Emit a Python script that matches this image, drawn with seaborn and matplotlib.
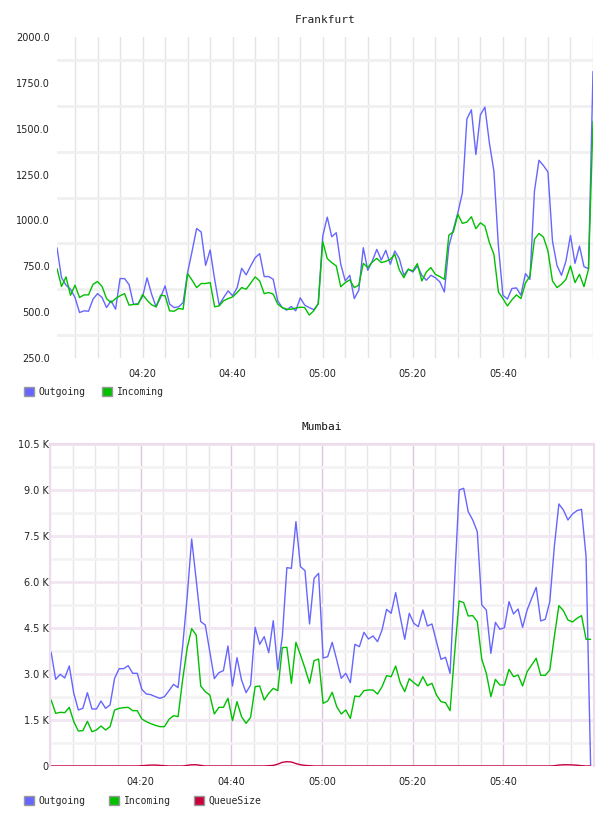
import matplotlib

matplotlib.use("Agg")

import matplotlib.dates as mdates
import matplotlib.pyplot as plt
import numpy as np
import pandas as pd
import seaborn as sns
from matplotlib.patches import Patch

# Frankfurt, one sample per minute from 04:01
frankfurt_outgoing = [
    851, 688, 647, 625, 580, 498, 507, 505, 571, 601, 580, 525, 562, 516, 683, 683, 650, 542, 547, 585,
    687, 598, 529, 580, 643, 544, 525, 529, 552, 716, 833, 956, 937, 755, 839, 679, 538, 580, 616, 589,
    634, 739, 703, 752, 797, 819, 694, 694, 679, 562, 525, 511, 531, 507, 578, 538, 525, 513, 544, 915,
    1018, 911, 933, 761, 670, 701, 574, 619, 851, 728, 779, 842, 784, 837, 761, 833, 792, 701, 734, 719,
    752, 701, 674, 701, 688, 665, 610, 860, 951, 1042, 1150, 1553, 1603, 1359, 1576, 1618, 1422, 1268, 860, 592,
    571, 629, 632, 592, 710, 679, 1159, 1328, 1299, 1264, 888, 755, 701, 779, 918, 766, 860, 748, 737, 1812,
]
frankfurt_incoming = [
    737, 640, 692, 592, 647, 580, 594, 594, 652, 667, 640, 574, 552, 574, 589, 601, 538, 542, 542, 596,
    565, 540, 529, 592, 589, 507, 505, 520, 516, 710, 674, 634, 656, 656, 661, 529, 534, 562, 574, 583,
    607, 634, 625, 658, 692, 670, 601, 607, 598, 544, 525, 516, 516, 522, 527, 525, 484, 507, 547, 885,
    792, 770, 752, 638, 661, 676, 634, 647, 766, 743, 773, 793, 770, 777, 788, 815, 730, 688, 734, 725,
    764, 670, 719, 743, 706, 694, 679, 920, 937, 1033, 984, 991, 1020, 955, 987, 969, 879, 815, 610, 574,
    534, 567, 594, 574, 658, 697, 897, 929, 909, 833, 670, 634, 652, 679, 752, 661, 706, 639, 734, 1540,
]

# Mumbai, one sample per minute from 04:00
mumbai_outgoing = [
    3707, 2826, 2989, 2870, 3261, 2370, 1826, 1881, 2391, 1859, 1859, 2120, 1881, 1989, 2859, 3174, 3174, 3272, 3022, 3022,
    2500, 2348, 2326, 2261, 2207, 2261, 2457, 2663, 2555, 3891, 5500, 7402, 6065, 4707, 4598, 3729, 2848, 3044, 3109, 3913,
    2609, 3533, 2804, 2391, 2641, 4522, 3967, 4217, 3696, 4739, 3131, 4217, 6468, 6446, 7968, 6500, 6370, 4631, 6120, 6283,
    3520, 3565, 4033, 3457, 2859, 3022, 2717, 3968, 3892, 4359, 4141, 4240, 4055, 4435, 5109, 4979, 5653, 4870, 4131, 4979,
    4653, 4544, 5087, 4566, 4631, 4055, 3478, 3544, 3022, 6011, 9000, 9055, 8294, 8022, 7642, 5250, 5087, 3674, 4685, 4457,
    4511, 5359, 4957, 5120, 4522, 5087, 5468, 5827, 4729, 4783, 5359, 7153, 8544, 8348, 8022, 8218, 8327, 8370, 6827, 30,
]
mumbai_incoming = [
    2152, 1717, 1750, 1739, 1913, 1446, 1141, 1152, 1457, 1120, 1174, 1304, 1174, 1283, 1826, 1881, 1902, 1913, 1804, 1804,
    1533, 1446, 1380, 1326, 1283, 1283, 1522, 1642, 1609, 2804, 3837, 4478, 4272, 2609, 2424, 2315, 1696, 1913, 1913, 2207,
    1478, 2098, 1609, 1391, 1587, 2587, 2609, 2152, 2370, 2533, 2457, 3859, 3870, 2696, 4033, 3620, 3185, 2696, 3435, 3489,
    2044, 2120, 2402, 1935, 1696, 1826, 1554, 2283, 2261, 2457, 2478, 2478, 2348, 2587, 2946, 2913, 3261, 2717, 2424, 2848,
    2717, 2609, 2913, 2620, 2696, 2315, 2098, 2065, 1804, 3674, 5381, 5327, 4892, 4903, 4707, 3478, 3022, 2261, 2826, 2642,
    2642, 3152, 2913, 2967, 2609, 3076, 3294, 3511, 2957, 2957, 3131, 4218, 5229, 5066, 4761, 4696, 4816, 4903, 4131, 4131,
]
mumbai_queue = [
    0, 0, 0, 0, 0, 0, 0, 0, 0, 0, 0, 0, 0, 0, 0, 0, 0, 0, 0, 0,
    10, 20, 30, 30, 20, 10, 0, 0, 0, 0, 20, 40, 40, 20, 0, 0, 0, 0, 0, 0,
    0, 0, 0, 0, 0, 0, 0, 0, 10, 20, 60, 120, 140, 130, 80, 40, 20, 10, 0, 0,
    0, 0, 0, 0, 0, 0, 0, 0, 0, 0, 0, 0, 0, 0, 0, 0, 0, 0, 0, 0,
    0, 0, 0, 0, 0, 0, 0, 0, 0, 0, 0, 0, 0, 0, 0, 0, 0, 0, 0, 0,
    0, 0, 0, 0, 0, 0, 0, 0, 0, 0, 0, 10, 30, 40, 40, 35, 25, 10, 0, 0,
]

frankfurt_yticks = [250, 500, 750, 1000, 1250, 1500, 1750, 2000]
mumbai_yticks = [0, 1500, 3000, 4500, 6000, 7500, 9000, 10500]
mumbai_ylabels = ["0", "1.5 K", "3.0 K", "4.5 K", "6.0 K", "7.5 K", "9.0 K", "10.5 K"]

BLUE = "#6666ff"
GREEN = "#00c000"
RED = "#c8003c"
MONO = "DejaVu Sans Mono"

sns.set_style("white")
plt.rcParams["font.family"] = ["DejaVu Sans"]

frankfurt = pd.DataFrame({
    "time": pd.date_range("2024-01-01 04:01", periods=len(frankfurt_outgoing), freq="1min"),
    "Outgoing": frankfurt_outgoing,
    "Incoming": frankfurt_incoming,
})
mumbai = pd.DataFrame({
    "time": pd.date_range("2024-01-01 04:00:15", periods=len(mumbai_outgoing), freq="1min"),
    "Outgoing": mumbai_outgoing,
    "Incoming": mumbai_incoming,
    "QueueSize": mumbai_queue,
})

fig = plt.figure(figsize=(6.08, 8.16), dpi=100)
ax1 = fig.add_axes([57 / 608, 1 - 358 / 816, 536 / 608, 321 / 816])
ax2 = fig.add_axes([50 / 608, 1 - 766 / 816, 544 / 608, 322 / 816])

major_times = pd.to_datetime(["2024-01-01 04:20", "2024-01-01 04:40", "2024-01-01 05:00",
                              "2024-01-01 05:20", "2024-01-01 05:40"])
fmt = mdates.DateFormatter("%H:%M")

# --- Frankfurt ---
for name, color in [("Outgoing", BLUE), ("Incoming", GREEN)]:
    sns.lineplot(data=frankfurt, x="time", y=name, ax=ax1, color=color, lw=1.0, legend=False)
ax1.set_xlim(frankfurt["time"].iloc[0], frankfurt["time"].iloc[-1])
ax1.set_ylim(250, 2000)
ax1.set_yticks(frankfurt_yticks)
ax1.set_yticklabels([f"{v:.1f}" for v in frankfurt_yticks])
ax1.set_yticks(np.arange(375, 2000, 250), minor=True)
ax1.set_xticks(major_times)
ax1.xaxis.set_major_formatter(fmt)
ax1.xaxis.set_minor_locator(mdates.MinuteLocator(byminute=range(0, 60, 5)))
ax1.set_axisbelow(True)
ax1.yaxis.grid(True, which="minor", color="#f0f0f0", lw=2)
ax1.xaxis.grid(True, which="both", color="#e4e4e4", lw=1)
for s in ax1.spines.values():
    s.set_visible(False)
ax1.tick_params(which="both", length=0)
ax1.tick_params(axis="y", pad=5, labelsize=7, labelcolor="#222222")
ax1.tick_params(axis="x", pad=8, labelsize=7, labelcolor="#222222")
ax1.set_xlabel("")
ax1.set_ylabel("")
ax1.set_title("Frankfurt", family=MONO, fontsize=8, pad=10, color="#222222")

# --- Mumbai ---
for name, color in [("Outgoing", BLUE), ("Incoming", GREEN), ("QueueSize", RED)]:
    sns.lineplot(data=mumbai, x="time", y=name, ax=ax2, color=color, lw=1.0, legend=False)
ax2.set_xlim(pd.Timestamp("2024-01-01 04:00"), pd.Timestamp("2024-01-01 06:00"))
ax2.set_ylim(0, 10500)
ax2.set_yticks(mumbai_yticks)
ax2.set_yticklabels(mumbai_ylabels)
ax2.set_yticks(np.arange(750, 10500, 1500), minor=True)
ax2.set_xticks(major_times)
ax2.xaxis.set_major_formatter(fmt)
ax2.xaxis.set_minor_locator(mdates.MinuteLocator(byminute=range(0, 60, 5)))
ax2.set_axisbelow(True)
ax2.yaxis.grid(True, which="major", color="#f1e6f1", lw=2)
ax2.yaxis.grid(True, which="minor", color="#f3f3f3", lw=2)
ax2.xaxis.grid(True, which="major", color="#dcc6dc", lw=1)
ax2.xaxis.grid(True, which="minor", color="#e9e4e9", lw=1)
for side in ["left", "top", "right"]:
    ax2.spines[side].set_color("#ecdcec")
    ax2.spines[side].set_linewidth(1.5)
ax2.spines["bottom"].set_visible(False)
ax2.tick_params(which="both", length=0)
ax2.tick_params(axis="y", pad=1, labelsize=7, labelcolor="#222222")
ax2.tick_params(axis="x", pad=8, labelsize=7, labelcolor="#222222")
ax2.set_xlabel("")
ax2.set_ylabel("")
ax2.set_title("Mumbai", family=MONO, fontsize=8, pad=10, color="#111111")

# --- legends ---
def add_legend(names, colors, y_px, spacing):
    handles = [Patch(facecolor=c, edgecolor="#999999", lw=1) for c in colors]
    fig.legend(handles, names, loc="center left", bbox_to_anchor=(24 / 608, 1 - y_px / 816),
               bbox_transform=fig.transFigure, ncol=len(names), frameon=False,
               prop={"family": MONO, "size": 7}, handlelength=1.0, handleheight=1.0,
               handletextpad=0.5, columnspacing=spacing, borderpad=0, borderaxespad=0)

add_legend(["Outgoing", "Incoming"], [BLUE, GREEN], 392, 1.7)
add_legend(["Outgoing", "Incoming", "QueueSize"], [BLUE, GREEN, RED], 801, 2.4)

fig.savefig("out.png", dpi=100)
